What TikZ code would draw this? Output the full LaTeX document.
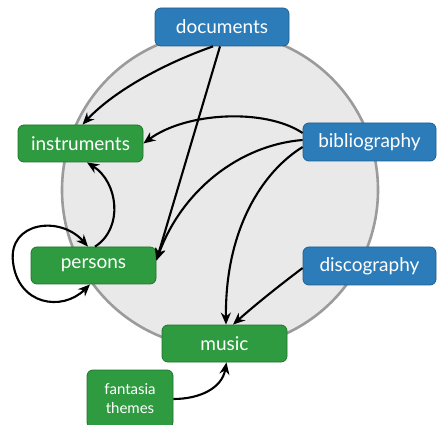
\documentclass[tikz,border=0pt]{standalone}
\usepackage{fontspec}
\setmainfont{Lato}
\usetikzlibrary{arrows.meta}
\definecolor{blueb}{RGB}{44,124,186}
\definecolor{blued}{RGB}{30,95,145}
\definecolor{greenb}{RGB}{47,155,64}
\definecolor{greend}{RGB}{32,115,45}
\definecolor{circfill}{RGB}{233,233,233}
\definecolor{circline}{RGB}{155,155,155}
\tikzset{
  box/.style={rounded corners=6pt, draw, line width=0.8pt, text=white, align=center, inner sep=0pt, font=\fontsize{19}{21}\selectfont},
  bluebox/.style={box, fill=blueb, draw=blued},
  greenbox/.style={box, fill=greenb, draw=greend},
  conn/.style={line width=2.1pt, -{Stealth[length=12pt,width=10pt]}},
  connboth/.style={line width=2.1pt, {Stealth[length=12pt,width=10pt]}-{Stealth[length=12pt,width=10pt]}}
}
\begin{document}
\begin{tikzpicture}[x=1pt,y=-1pt]
\useasboundingbox (0,0) rectangle (437,425);
\clip (0,0) rectangle (437,425);
\draw[fill=circfill, draw=circline, line width=2.6pt] (220,190) circle (158);
\node[bluebox, minimum width=134pt, minimum height=38pt] (documents) at (222,27) {documents};
\node[greenbox, minimum width=125pt, minimum height=37pt] (instruments) at (80.5,143.5) {instruments};
\node[bluebox, minimum width=133pt, minimum height=38pt] (bibliography) at (369.5,142) {bibliography};
\node[greenbox, minimum width=125pt, minimum height=37pt] (persons) at (93.5,265.5) {persons};
\node[bluebox, minimum width=133pt, minimum height=38pt] (discography) at (369.5,266) {discography};
\node[greenbox, minimum width=125pt, minimum height=37pt] (music) at (224.5,343.5) {music};
\node[greenbox, minimum width=86pt, minimum height=58pt, font=\fontsize{15}{19}\selectfont] (fantasia) at (130,399) {fantasia\\themes};
% connectors
\draw[conn] ([xshift=-9pt]documents.south) .. controls (160,65) and (112,93) .. ([xshift=2pt]instruments.north);
\draw[conn] ([xshift=-2pt]documents.south) -- ([yshift=5pt]persons.east);
\draw[conn] ([yshift=9pt]bibliography.west) .. controls (265,108) and (186,112) .. (instruments.east);
\draw[conn] ([yshift=2pt]bibliography.west) .. controls (240,145) and (182,190) .. ([yshift=5pt]persons.east);
\draw[conn] ([yshift=-5pt]bibliography.west) .. controls (262,172) and (225,230) .. ([xshift=1.5pt]music.north);
\draw[conn] ([yshift=-2pt]discography.west) .. controls (280,285) and (255,305) .. ([xshift=8.5pt]music.north);
\draw[conn] ([xshift=1.5pt]persons.north) .. controls (124,228) and (118,182) .. ([xshift=6.5pt]instruments.south);
\draw[connboth] ([xshift=-5.5pt]persons.north) .. controls (60,215) and (8,222) .. (13,262) .. controls (18,305) and (62,312) .. ([xshift=-3.5pt]persons.south);
\draw[conn] (fantasia.east) .. controls (200,399) and (222,388) .. ([xshift=2pt]music.south);
\end{tikzpicture}
\end{document}
